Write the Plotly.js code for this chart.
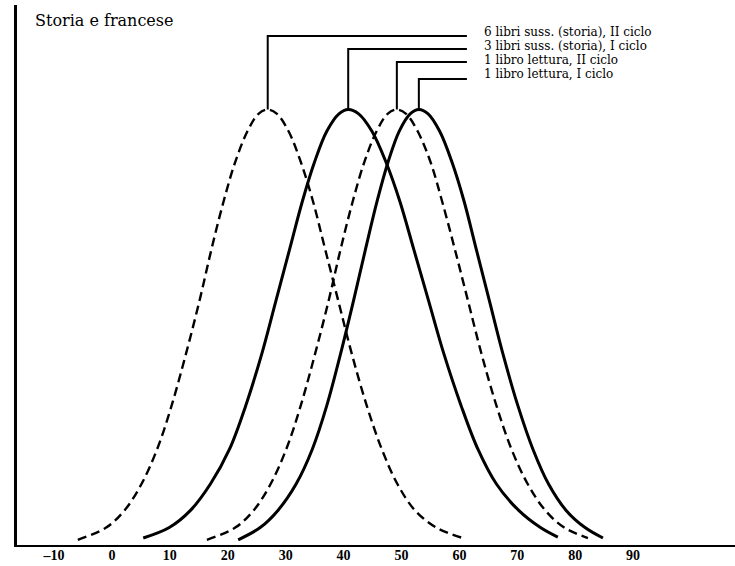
<!DOCTYPE html>
<html>
<head>
<meta charset="utf-8">
<script src="https://cdn.plot.ly/plotly-3.0.1.min.js"></script>
<style>html,body{margin:0;padding:0;background:#fff;}#chart{width:735px;height:566px;}</style>
</head>
<body>
<div id="chart"></div>
<script>
// Tick labels on the horizontal axis
const tickValues = [-10, 0, 10, 20, 30, 40, 50, 60, 70, 80, 90];
const tickLabels = ["\u201310", "0", "10", "20", "30", "40", "50", "60", "70", "80", "90"];

// Series names (as written in the figure)
const seriesNames = [
  "6 libri suss. (storia), II ciclo",
  "3 libri suss. (storia), I ciclo",
  "1 libro lettura, II ciclo",
  "1 libro lettura, I ciclo"
];

// Curve 1: 6 libri suss. (storia), II ciclo  (dashed)
const s1x = [-5.9, -1.0, 2.2, 5.1, 7.8, 10.3, 12.8, 15.1, 17.2, 19.3, 21.3, 23.4, 25.3, 26.9, 28.5, 30.5, 32.6, 34.7, 36.8, 39.1, 41.4, 44.0, 46.6, 49.3, 52.3, 56.0, 60.6];
const s1y = [1.2, 4, 8, 14, 22, 32, 44, 56, 68, 79, 88, 95, 99, 100, 99, 95, 88, 79, 68, 56, 44, 32, 22, 14, 8, 4, 1.6];

// Curve 2: 3 libri suss. (storia), I ciclo  (solid)
const s2x = [5.4, 9.9, 13.6, 17.0, 20.3, 23.1, 25.9, 28.3, 30.7, 32.9, 35.0, 37.1, 39.2, 40.8, 42.6, 44.9, 47.3, 49.7, 52.1, 54.7, 57.3, 60.3, 63.2, 66.4, 70.2, 74.0, 77.0];
const s2y = [1.6, 4, 8, 14, 22, 32, 44, 56, 68, 79, 88, 95, 99, 100, 99, 95, 88, 79, 68, 56, 44, 32, 22, 14, 8, 4, 1.8];

// Curve 3: 1 libro lettura, II ciclo  (dashed)
const s3x = [16.4, 21.3, 24.5, 27.4, 30.1, 32.6, 35.1, 37.4, 39.5, 41.6, 43.6, 45.7, 47.6, 49.2, 50.8, 52.8, 55.0, 57.0, 59.2, 61.5, 63.8, 66.4, 69.0, 71.8, 74.8, 78.1, 82.2];
const s3y = [1.2, 4, 8, 14, 22, 32, 44, 56, 68, 79, 88, 95, 99, 100, 99, 95, 88, 79, 68, 56, 44, 32, 22, 14, 8, 4, 1.6];

// Curve 4: 1 libro lettura, I ciclo  (solid)
const s4x = [21.8, 25.6, 28.7, 31.8, 34.6, 37.1, 39.5, 41.7, 43.8, 45.8, 47.7, 49.6, 51.5, 53.0, 54.6, 56.6, 58.7, 60.8, 62.9, 65.2, 67.5, 70.1, 72.7, 75.4, 78.4, 81.7, 84.8];
const s4y = [1.2, 4, 8, 14, 22, 32, 44, 56, 68, 79, 88, 95, 99, 100, 99, 95, 88, 79, 68, 56, 44, 32, 22, 14, 8, 4, 1.6];

// Heights of the label leader lines and label rows (in the chart's y units)
const leaderLevels = [116.9, 113.9, 110.9, 107.0];
const labelLevels = [117.8, 114.6, 111.4, 108.2];
const leaderEndX = 61.3;
const labelX = 63.9;

const xs = [s1x, s2x, s3x, s4x];
const ys = [s1y, s2y, s3y, s4y];
const dashes = ["9px,5px", "solid", "9px,5px", "solid"];
const widths = [2.4, 3, 2.4, 3];

const traces = xs.map((x, i) => ({
  type: "scatter",
  mode: "lines",
  name: seriesNames[i],
  x: x,
  y: ys[i],
  line: {color: "#000", width: widths[i], dash: dashes[i], shape: "spline", smoothing: 1},
  hoverinfo: "skip"
}));

const shapes = [];
const annotations = [];
xs.forEach((x, i) => {
  const y = ys[i];
  let k = 0;
  for (let j = 1; j < y.length; j++) if (y[j] > y[k]) k = j;
  const px = x[k], py = y[k];
  shapes.push({type: "path", xref: "x", yref: "y",
    path: `M ${px} ${py} L ${px} ${leaderLevels[i]} L ${leaderEndX} ${leaderLevels[i]}`,
    line: {color: "#000", width: 2}});
  annotations.push({xref: "x", yref: "y", x: labelX, y: labelLevels[i], xanchor: "left", yanchor: "middle",
    text: seriesNames[i], showarrow: false,
    font: {family: "DejaVu Serif", size: 12, color: "#000"}});
});
annotations.push({xref: "x", yref: "y", x: -13.6, y: 120.5, xanchor: "left", yanchor: "middle",
  text: "Storia e francese", showarrow: false,
  font: {family: "DejaVu Serif", size: 16, color: "#000"}});

const layout = {
  width: 735, height: 566,
  margin: {l: 17, r: 0, t: 5, b: 21, pad: 0},
  paper_bgcolor: "#fff", plot_bgcolor: "#fff",
  showlegend: false,
  xaxis: {range: [-16.4, 107.6], showgrid: false, zeroline: false, showline: true,
    linecolor: "#000", linewidth: 2, ticks: "", tickvals: tickValues, ticktext: tickLabels,
    ticklabelstandoff: -4,
    tickfont: {family: "Liberation Serif", size: 14, color: "#000", weight: "bold"}, fixedrange: true},
  yaxis: {range: [0, 124], showgrid: false, zeroline: false, showline: true,
    linecolor: "#000", linewidth: 3, showticklabels: false, ticks: "", fixedrange: true},
  shapes: shapes,
  annotations: annotations
};

Plotly.newPlot("chart", traces, layout, {staticPlot: true, displayModeBar: false});
</script>
</body>
</html>
